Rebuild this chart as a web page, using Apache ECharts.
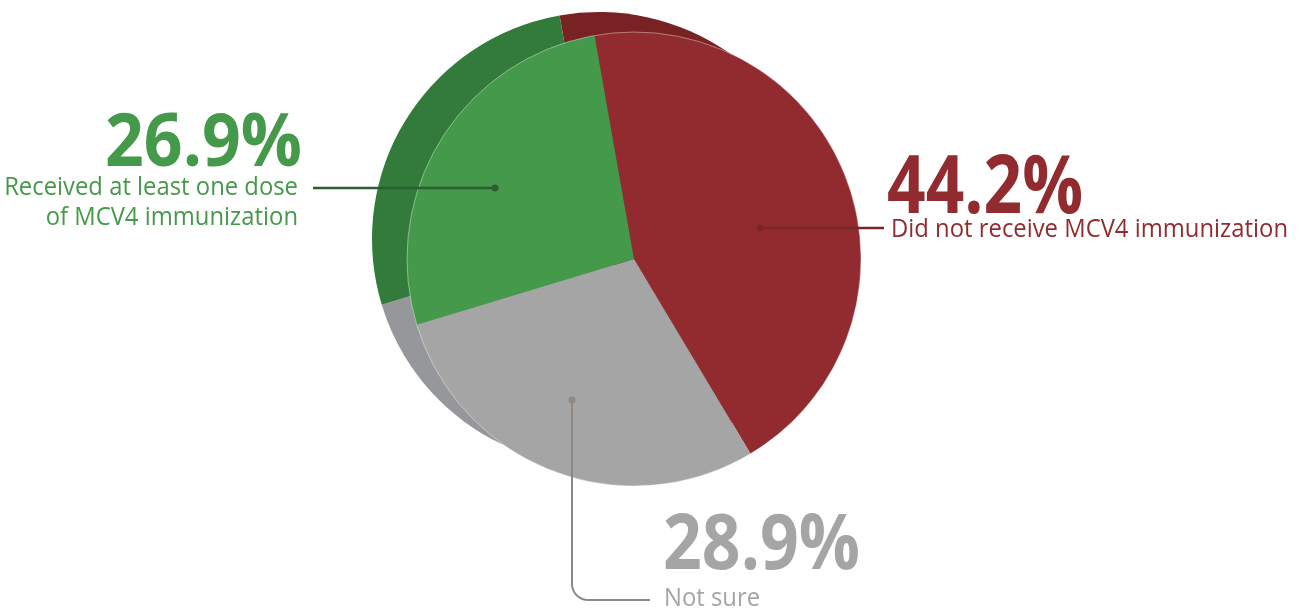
<!DOCTYPE html>
<html><head><meta charset="utf-8">
<script src="https://cdn.jsdelivr.net/npm/echarts@6/dist/echarts.min.js"></script>
<style>html,body{margin:0;padding:0;background:#fff}#c{width:1299px;height:610px}</style>
</head><body><div id="c"></div>
<script>
// ---- data ----
const categories = ['Did not receive MCV4 immunization', 'Not sure', 'Received at least one dose\nof MCV4 immunization'];
const values = [44.2, 28.9, 26.9];
const colors = ['#922B2F', '#A4A5A4', '#45994A'];
const shadowColors = ['#782224', '#96979B', '#327B3B'];
const lineColors = ['#7A2628', '#8E8782', '#2B5E30'];

// ---- layout ----
const CX = 634, CY = 259, R = 227, SDX = -35, SDY = -20;
const FONT = "'Open Sans'";

const mctx = document.createElement('canvas').getContext('2d');
function measure(text, font) {
  mctx.font = font;
  mctx.textBaseline = 'middle';
  const m = mctx.measureText(text);
  return { w: m.width, off: (m.actualBoundingBoxDescent - m.actualBoundingBoxAscent) / 2 };
}
function capOffset(font) {
  mctx.font = font; mctx.textBaseline = 'middle';
  const m = mctx.measureText('H');
  return (m.actualBoundingBoxDescent - m.actualBoundingBoxAscent) / 2;
}

// label placement (per slice): big % text and sub text
const labelPos = [
  { big: { x: 887, cy: 183.5, cap: 57, w: 196, align: 'left' },
    sub: { x: 891, cy: [228], align: 'left' },
    line: [[760, 228], [884, 228]], lw: 2.5 },
  { big: { x: 663, cy: 540.5, cap: 55, w: 197, align: 'left' },
    sub: { x: 664, cy: [597], align: 'left' },
    line: null, lw: 2 },
  { big: { x: 302, cy: 139.5, cap: 53, w: 197, align: 'right' },
    sub: { x: 298, cy: [186, 216], align: 'right' },
    line: [[495, 188], [313, 188]], lw: 2.5 }
];
// grey leader line with a rounded corner
(function () {
  const pts = [[572, 400]];
  const rc = 16, ax = 588, ay = 584;
  for (let t = 0; t <= 10; t++) {
    const a = Math.PI - t * (Math.PI / 2) / 10;
    pts.push([ax + rc * Math.cos(a), ay + rc * Math.sin(a)]);
  }
  pts.push([650, 600]);
  labelPos[1].line = pts;
})();

const SUB_SIZE = 25;
const subFont = SUB_SIZE + 'px ' + FONT;
const subScale = 397 / measure(categories[0], subFont).w;
const subOff = capOffset(subFont);

const graphics = [];
values.forEach((v, i) => {
  const P = labelPos[i];
  // leader line
  graphics.push({ type: 'polyline', z: 100, silent: true,
    shape: { points: P.line },
    style: { stroke: lineColors[i], lineWidth: P.lw, fill: null, lineJoin: 'round' } });
  graphics.push({ type: 'circle', z: 101, silent: true,
    shape: { cx: P.line[0][0], cy: P.line[0][1], r: 3.5 },
    style: { fill: lineColors[i] } });
  // big percentage
  const bigSize = P.big.cap / 0.714;
  const bigFont = 'bold ' + bigSize.toFixed(1) + 'px ' + FONT;
  const txt = v.toFixed(1) + '%';
  const bm = measure(txt, bigFont);
  const bOff = capOffset(bigFont);
  graphics.push({ type: 'text', z: 100, silent: true,
    x: P.big.x, y: P.big.cy - bOff, scaleX: P.big.w / bm.w,
    style: { text: txt, font: bigFont, fill: colors[i], x: 0, y: 0,
      align: P.big.align, textAlign: P.big.align, verticalAlign: 'middle', textVerticalAlign: 'middle' } });
  // sub text lines
  categories[i].split('\n').forEach((line, k) => {
    graphics.push({ type: 'text', z: 100, silent: true,
      x: P.sub.x, y: P.sub.cy[k] - subOff, scaleX: subScale,
      style: { text: line, font: subFont, fill: colors[i], x: 0, y: 0,
        align: P.sub.align, textAlign: P.sub.align, verticalAlign: 'middle', textVerticalAlign: 'middle' } });
  });
});

const mainData = values.map((v, i) => ({ name: categories[i], value: v, itemStyle: { color: colors[i] } }));
const shadowData = values.map((v, i) => ({ name: categories[i], value: v, itemStyle: { color: shadowColors[i] } }));

const chart = echarts.init(document.getElementById('c'), null, { renderer: 'canvas' });
chart.setOption({
  animation: false,
  backgroundColor: '#fff',
  series: [
    {
      type: 'pie', silent: true, z: 1,
      center: [CX + SDX, CY + SDY], radius: R,
      startAngle: 100, clockwise: true,
      label: { show: false }, labelLine: { show: false },
      itemStyle: { borderWidth: 0 },
      emphasis: { disabled: true },
      data: shadowData
    },
    {
      type: 'pie', silent: true, z: 2,
      center: [CX, CY], radius: R,
      startAngle: 100, clockwise: true,
      label: { show: false }, labelLine: { show: false },
      itemStyle: { borderWidth: 0 },
      emphasis: { disabled: true },
      data: mainData
    },
    {
      type: 'pie', silent: true, z: 3,
      center: [CX, CY], radius: R,
      label: { show: false }, labelLine: { show: false },
      itemStyle: { color: 'rgba(0,0,0,0)', borderColor: 'rgba(255,255,255,0.4)', borderWidth: 1 },
      emphasis: { disabled: true },
      data: [{ value: 1, name: 'rim' }]
    }
  ],
  graphic: graphics
});
</script></body></html>
